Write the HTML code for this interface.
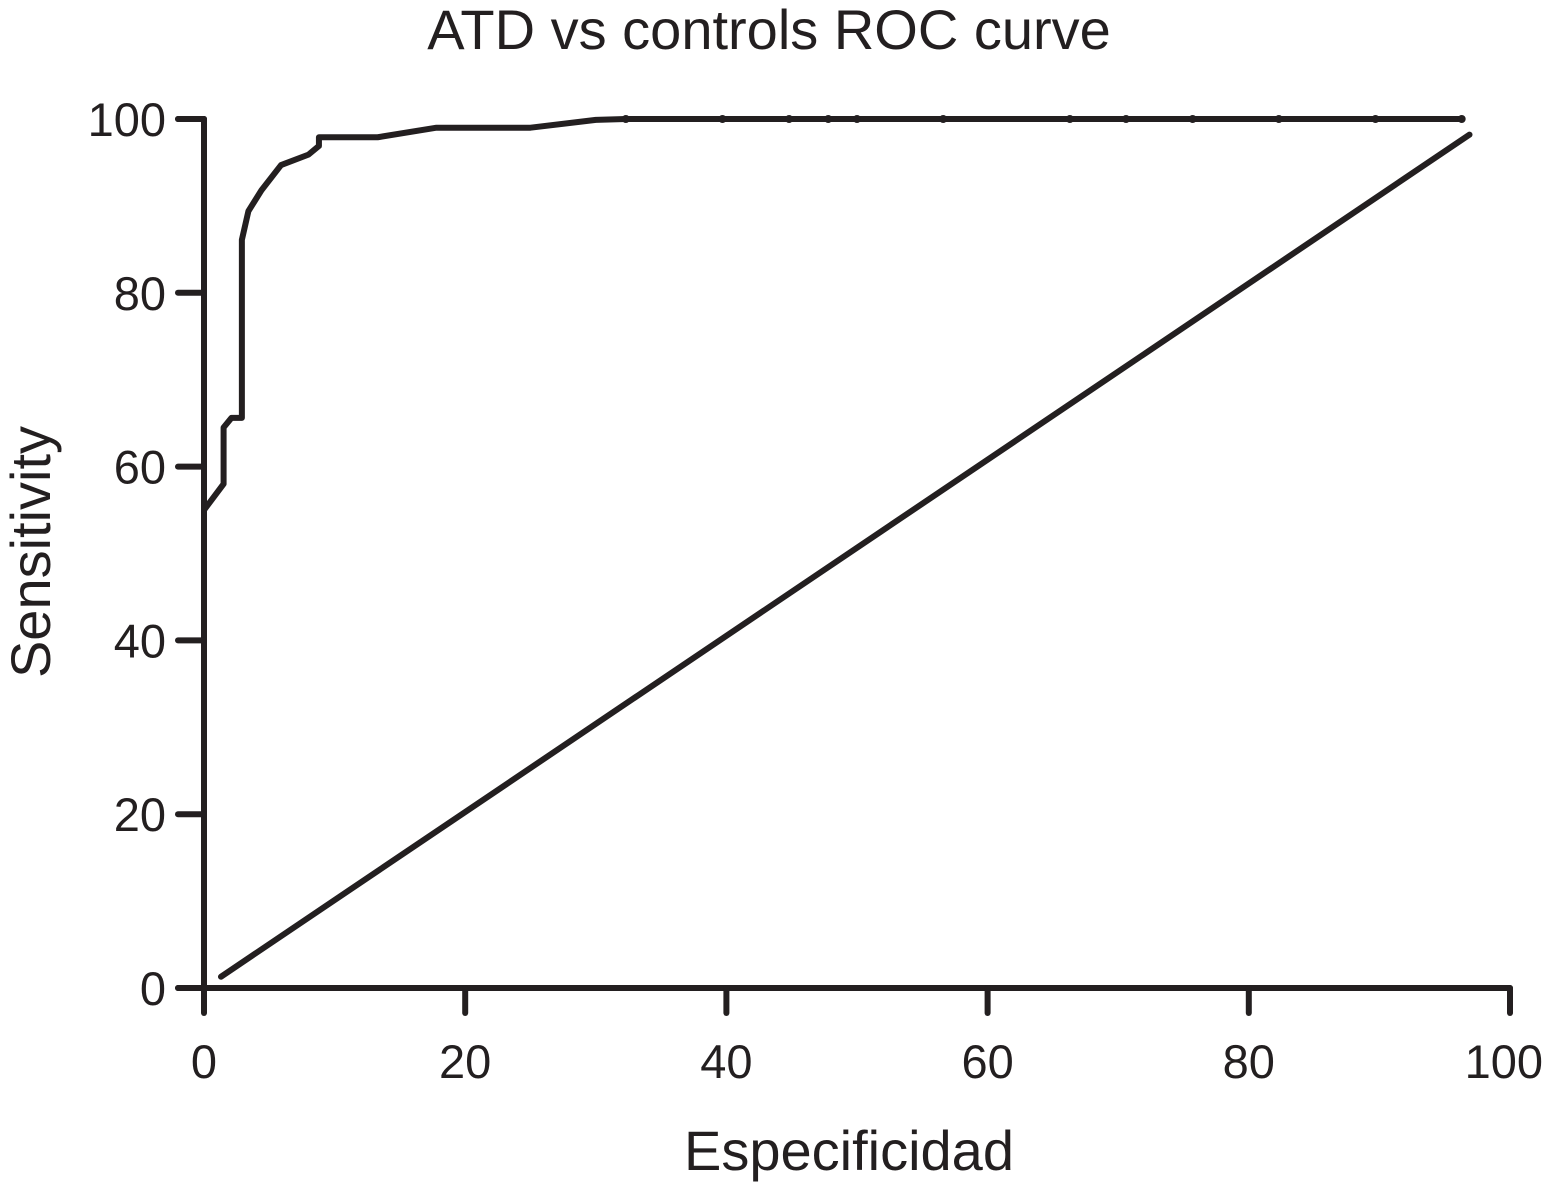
<!DOCTYPE html>
<html><head><meta charset="utf-8"><style>
html,body{margin:0;padding:0;background:#fff;}
svg{display:block;font-family:"Liberation Sans",Arial,sans-serif;}
</style></head><body>
<svg id="chart" width="1545" height="1182" viewBox="0 0 1545 1182">
<text x="769" y="49" font-size="56" text-anchor="middle" fill="#231f20">ATD vs controls ROC curve</text>
<text x="849" y="1170" font-size="56" text-anchor="middle" fill="#231f20">Especificidad</text>
<text transform="translate(50,552) rotate(-90)" font-size="56" text-anchor="middle" fill="#231f20">Sensitivity</text>
<g id="axes"></g>
<g id="marks"></g>
</svg>
<script>
const xTicks=[0,20,40,60,80,100];
const yTicks=[0,20,40,60,80,100];
const rocX=[0,1.5,1.5,2.1,2.9,2.9,3.4,4.4,5.9,8.0,8.8,8.8,13.3,17.8,25,30,32.3,96.3];
const rocY=[55,58,64.5,65.6,65.6,86.1,89.4,91.8,94.7,95.9,96.9,97.9,97.9,99,99,99.9,100,100];
const dotX=[32.3,39.7,44.8,47.8,50.0,56.6,66.3,70.6,75.7,82.3,89.7,96.3];
const refX=[1.3,96.9];
const refY=[1.3,98.2];
const NS="http://www.w3.org/2000/svg";
const sx=v=>204+v*13.06;
const sy=v=>988-v*8.69;
const C="#231f20";
const axes=document.getElementById('axes'),marks=document.getElementById('marks');
function mk(tag,attrs,parent){const e=document.createElementNS(NS,tag);for(const k in attrs)e.setAttribute(k,attrs[k]);parent.appendChild(e);return e;}
let e;
e=mk('path',{d:`M${sx(0)},${sy(100)} L${sx(0)},${sy(0)} M${sx(0)-26},${sy(0)} L${sx(100)},${sy(0)}`,stroke:C,'stroke-width':6,fill:'none','stroke-linecap':'round'},axes);


e=mk('line',{x1:sx(0)-26,y1:sy(100),x2:sx(0),y2:sy(100),stroke:C,'stroke-width':6,'stroke-linecap':'round'},axes);


xTicks.forEach((t,i)=>{
 let l=mk('line',{x1:sx(t),y1:sy(0),x2:sx(t),y2:sy(0)+25,stroke:C,'stroke-width':6,'stroke-linecap':'round'},axes);
 
 
 let last=i===xTicks.length-1;
 let tx=mk('text',{x:last?1543:sx(t),y:1078,'font-size':47,'text-anchor':last?'end':'middle',fill:C},axes);tx.textContent=t;
 
 
});
yTicks.forEach(t=>{
 let l=mk('line',{x1:sx(0)-26,y1:sy(t),x2:sx(0),y2:sy(t),stroke:C,'stroke-width':6,'stroke-linecap':'round'},axes);
 
 
 let tx=mk('text',{x:166,y:sy(t)+17,'font-size':47,'text-anchor':'end',fill:C},axes);tx.textContent=t;
 
 
});
let d=rocX.map((x,i)=>(i?'L':'M')+sx(x)+','+sy(rocY[i])).join(' ');
e=mk('path',{d:d,stroke:C,'stroke-width':6,fill:'none','stroke-linejoin':'round','stroke-linecap':'round'},marks);


dotX.forEach(x=>{
 let c=mk('circle',{cx:sx(x),cy:sy(100),r:4,fill:C},marks);
 
 
});
e=mk('line',{x1:sx(refX[0]),y1:sy(refY[0]),x2:sx(refX[1]),y2:sy(refY[1]),stroke:C,'stroke-width':6,'stroke-linecap':'round'},marks);


</script>
</body></html>
